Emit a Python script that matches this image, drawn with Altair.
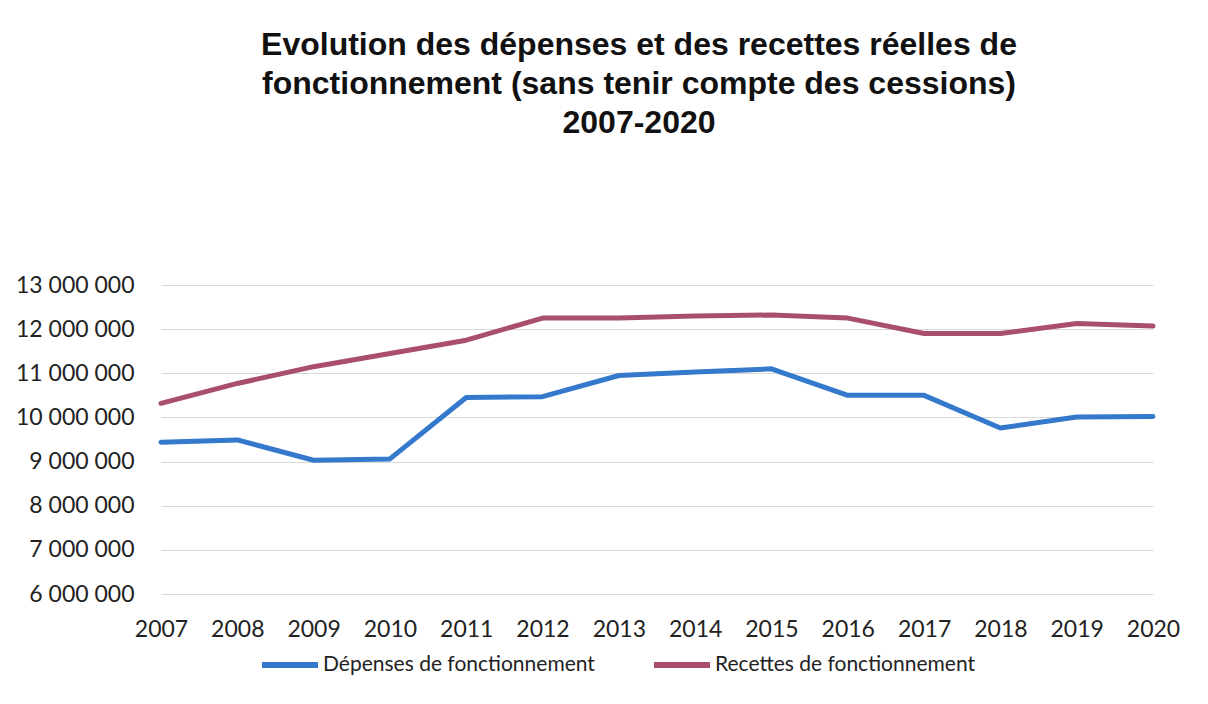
import altair as alt
import pandas as pd

years = [2007, 2008, 2009, 2010, 2011, 2012, 2013, 2014, 2015, 2016, 2017, 2018, 2019, 2020]
depenses = [9440000, 9490000, 9030000, 9060000, 10450000, 10470000, 10950000, 11030000,
            11100000, 10500000, 10500000, 9760000, 10010000, 10020000]
recettes = [10320000, 10770000, 11150000, 11450000, 11750000, 12250000, 12250000, 12300000,
            12320000, 12250000, 11900000, 11900000, 12130000, 12070000]
series_names = ["Dépenses de fonctionnement", "Recettes de fonctionnement"]
series_colors = ["#3479CB", "#A94F6C"]
y_ticks = [6000000, 7000000, 8000000, 9000000, 10000000, 11000000, 12000000, 13000000]
title_lines = ["Evolution des dépenses et des recettes réelles de",
               "fonctionnement (sans tenir compte des cessions)",
               "2007-2020"]

rows = []
for name, vals in zip(series_names, [depenses, recettes]):
    for yr, v in zip(years, vals):
        rows.append({"Année": str(yr), "Valeur": v, "Série": name})
df = pd.DataFrame(rows)

chart = alt.Chart(df).mark_line(strokeWidth=5, strokeJoin="round", strokeCap="round").encode(
    x=alt.X("Année:O", sort=[str(y) for y in years],
            scale=alt.Scale(type="point", padding=0),
            axis=alt.Axis(title=None, labelAngle=0, labelFont="Lato", labelFontSize=23,
                          labelColor="#222222", labelPadding=24, domain=False, ticks=False,
                          grid=False)),
    y=alt.Y("Valeur:Q", scale=alt.Scale(domain=[6000000, 13000000], nice=False, zero=False),
            axis=alt.Axis(title=None, values=y_ticks, labelFont="Lato", labelFontSize=23,
                          labelColor="#222222", labelPadding=27, domain=False, ticks=False,
                          grid=True, gridColor="#d9d9d9", gridWidth=1,
                          labelExpr="join(split(format(datum.value, ',d'), ','), ' ')")),
    color=alt.Color("Série:N", scale=alt.Scale(domain=series_names, range=series_colors),
                    legend=alt.Legend(title=None, orient="none", direction="horizontal",
                                      legendX=98, legendY=349,
                                      symbolType="stroke", symbolSize=3136,
                                      symbolStrokeWidth=6, labelFont="Lato",
                                      labelFontSize=21, labelColor="#222222",
                                      labelLimit=0, labelOffset=2, columnPadding=47)),
).properties(
    width=992, height=309,
    background="white",
    title=alt.TitleParams(text=title_lines, font="Liberation Sans", fontSize=32,
                          fontWeight="bold", color="#111111", lineHeight=39,
                          anchor="middle", offset=134, dx=-18),
    padding={"left": 7, "top": 21, "right": 10, "bottom": 10},
).configure_view(stroke=None)

chart.save("out.html", embed_options={"renderer": "svg", "actions": False})
